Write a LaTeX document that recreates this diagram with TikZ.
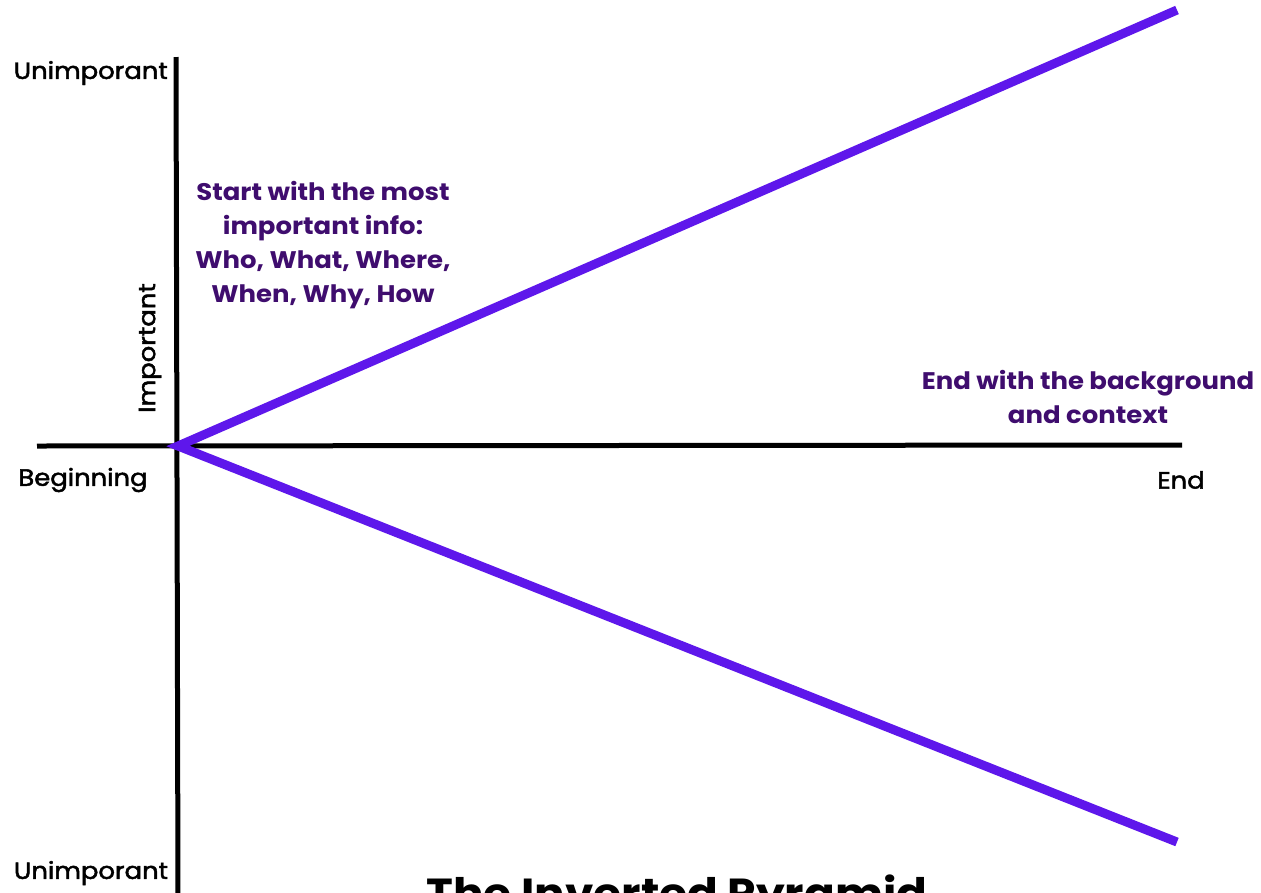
\documentclass[tikz,border=0pt]{standalone}
\usepackage{fontspec}
\setmainfont{Poppins}[FakeStretch=1.08]
\newfontfamily\axisfont{Poppins}[FakeStretch=1.1, FakeBold=2]
\usepackage{tikz}
\usetikzlibrary{positioning, calc}
\definecolor{pyrviolet}{HTML}{5E17EB}
\definecolor{pyrtext}{HTML}{3F0D6E}

\begin{document}
\begin{tikzpicture}[
    x=1pt, y=-1pt,
    axis/.style={line width=5pt, draw=black},
    wedge/.style={line width=9pt, draw=pyrviolet},
    axislabel/.style={font=\axisfont\fontsize{23.5}{26}\selectfont, text=black, inner sep=0pt},
    note/.style={font=\bfseries\fontsize{24}{34}\selectfont, text=pyrtext, align=center, inner sep=0pt},
    heading/.style={font=\bfseries\fontsize{42}{48}\selectfont, text=black, inner sep=0pt}
]
\useasboundingbox (0,0) rectangle (1261,892);
\clip (0,0) rectangle (1261,892);

% Axes
\coordinate (origin) at (178,446);
\coordinate (vtop) at (176,57);
\coordinate (vbot) at (178,900);
\coordinate (hleft) at (37,446);
\coordinate (hright) at (1182,445);
\draw[axis] (vtop) -- (vbot);
\draw[axis] (hleft) -- (hright);

% Pyramid edges
\coordinate (uptip) at (1177,10);
\coordinate (downtip) at (1177,842);
\draw[wedge] (uptip) -- (origin) -- (downtip);

% Axis labels
\node[axislabel, anchor=east] (toplabel) at (168,73) {Unimporant};
\node[axislabel, anchor=center] (botlabel) at (91,873) {Unimporant};
\node[axislabel, rotate=90] (important) at (150,348) {Important};
\node[axislabel] (beginning) at (83,480) {Beginning};
\node[axislabel] (endlabel) at (1181,480) {End};

% Notes
\node[note] (startnote) at (323,245) {Start with the most\\important info:\\Who, What, Where,\\When, Why, How};
\node[note] (endnote) at (1088,397) {End with the background\\and context};

% Title
\node[heading, anchor=base] (title) at (677,908) {The Inverted Pyramid};

\end{tikzpicture}
\end{document}
